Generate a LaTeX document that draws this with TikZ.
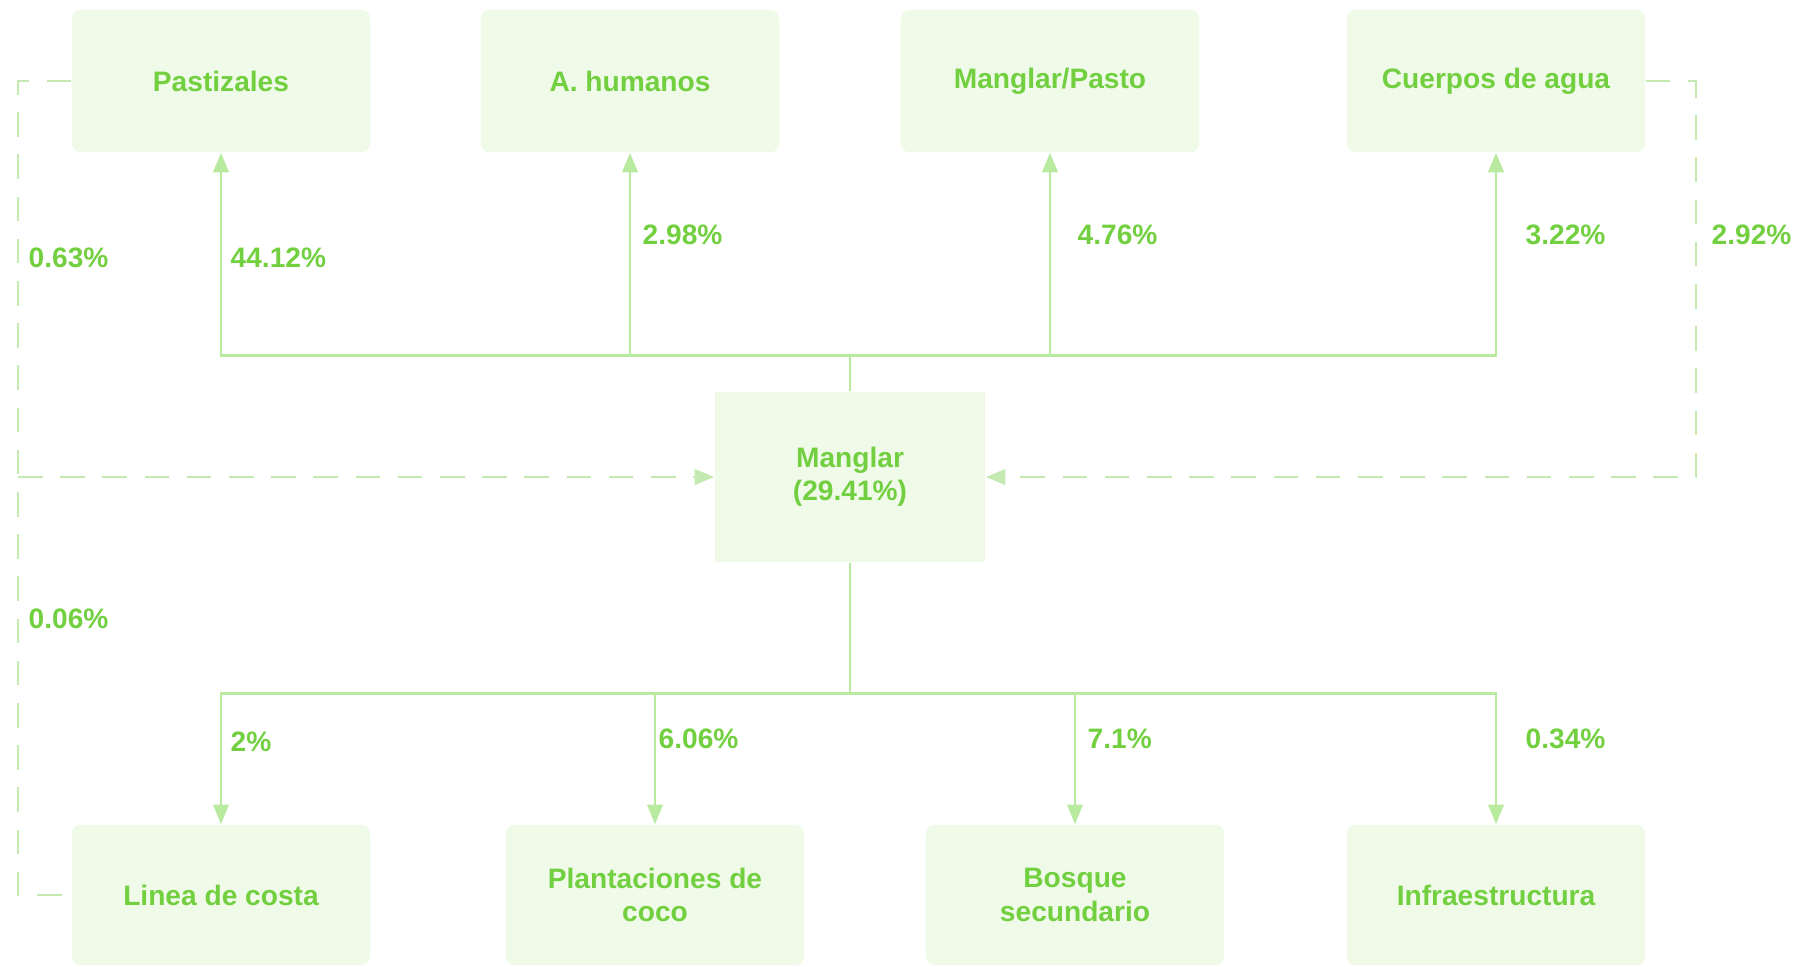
\documentclass[tikz,border=0pt]{standalone}
\usepackage{fontspec}
\setmainfont{Liberation Sans}
\usetikzlibrary{arrows.meta}
\definecolor{boxfill}{RGB}{240,250,233}
\definecolor{txtgreen}{RGB}{114,208,64}
\definecolor{linegreen}{RGB}{184,234,160}
\definecolor{dashgreen}{RGB}{196,234,178}
\begin{document}
\begin{tikzpicture}
  [x=0.01cm,y=-0.01cm,font=\fontsize{8}{9.5}\selectfont\bfseries,
   every node/.style={text=txtgreen,align=center},
   usebox/.style={fill=boxfill,rounded corners=2.3pt,minimum width=2.98cm,minimum height=1.42cm,inner sep=0pt},
   pct/.style={anchor=west,inner sep=0pt},
   flow/.style={draw=linegreen,line width=0.8pt,-{Triangle[length=5.6pt,width=4.4pt]}},
   back/.style={draw=dashgreen,line width=0.8pt,dash pattern=on 7pt off 5pt}]
  \useasboundingbox (0,0) rectangle (1801,966);
  % top row
  \node[usebox] (past) at (221,81) {Pastizales};
  \node[usebox] (hum) at (630,81) {A. humanos};
  \node[usebox] (mp) at (1050,81) {Manglar/Pasto};
  \node[usebox] (agua) at (1496,81) {Cuerpos de agua};
  % centre
  \node[usebox,rounded corners=0pt,minimum width=2.7cm,minimum height=1.7cm] (man) at (850,477) {Manglar\\(29.41\%)};
  % bottom row
  \node[usebox,minimum height=1.4cm] (costa) at (221,895) {Linea de costa};
  \node[usebox,minimum height=1.4cm] (coco) at (655,895) {Plantaciones de\\coco};
  \node[usebox,minimum height=1.4cm] (bosque) at (1075,895) {Bosque\\secundario};
  \node[usebox,minimum height=1.4cm] (infra) at (1496,895) {Infraestructura};
  \foreach \to in {past,hum,mp,agua}
    \draw[flow] (man.north) -- ++(0,-36) -| (\to.south);
  \foreach \to in {costa,coco,bosque,infra}
    \draw[flow] (man.south) -- ++(0,131) -| (\to.north);
  % dashed returns
  \coordinate (ltop) at (18,81);
  \coordinate (lmid) at (18,477);
  \coordinate (lbot) at (18,895);
  \coordinate (rtop) at (1696,81);
  \coordinate (rmid) at (1696,477);
  \draw[back] (past.west) -- (ltop) -- (lbot) -- (costa.west);
  \draw[back,-{Triangle[length=5.6pt,width=4.4pt]}] (lmid) -- (man.west);
  \draw[back,-{Triangle[length=5.6pt,width=4.4pt]}] (agua.east) -- (rtop) -- (rmid) -- (man.east);
  % percentages
  \node[pct] (l1) at (28,258) {0.63\%};
  \node[pct] (l2) at (230,258) {44.12\%};
  \node[pct] (l3) at (642,235) {2.98\%};
  \node[pct] (l4) at (1077,235) {4.76\%};
  \node[pct] (l5) at (1525,235) {3.22\%};
  \node[pct] (l6) at (1711,235) {2.92\%};
  \node[pct] (l7) at (28,619) {0.06\%};
  \node[pct] (l8) at (230,742) {2\%};
  \node[pct] (l9) at (658,739) {6.06\%};
  \node[pct] (l10) at (1087,739) {7.1\%};
  \node[pct] (l11) at (1525,739) {0.34\%};
\end{tikzpicture}
\end{document}
